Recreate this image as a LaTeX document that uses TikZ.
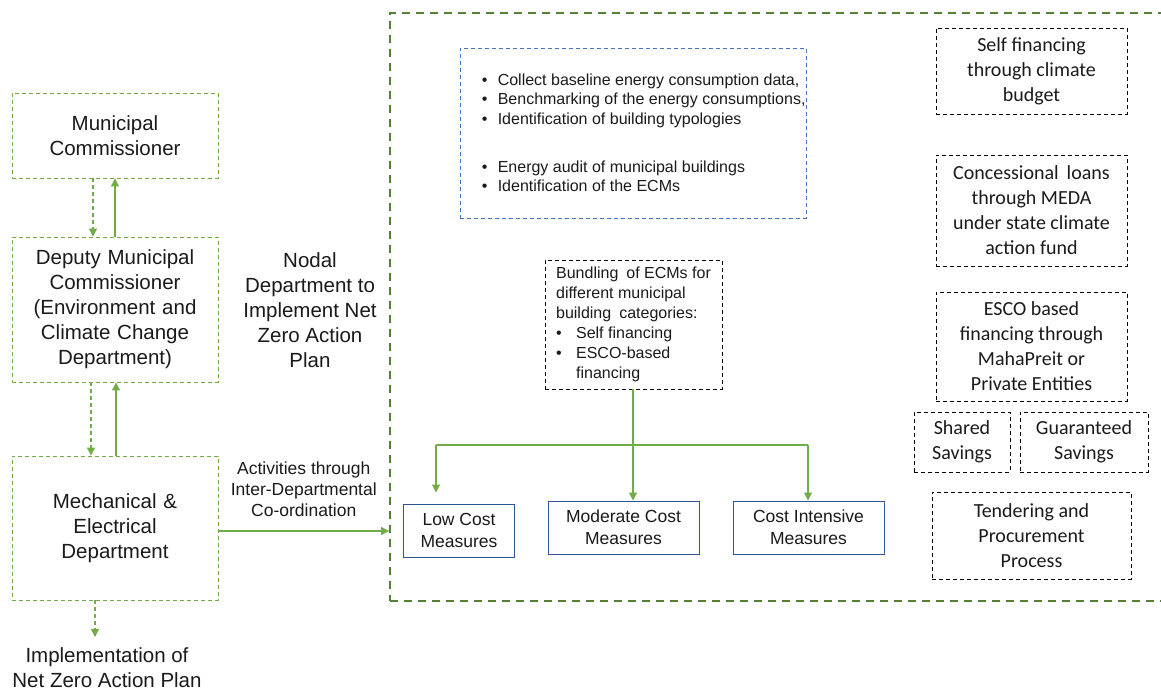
\documentclass[tikz,border=0pt]{standalone}
\usepackage{fontspec}
\setmainfont{Liberation Sans}
\newfontfamily\calib{Carlito}
\usetikzlibrary{arrows.meta}
\definecolor{lgreen}{HTML}{70AD47}
\definecolor{dgreen}{HTML}{548235}
\definecolor{dblue}{HTML}{4472C4}
\definecolor{sblue}{HTML}{2F5597}
\definecolor{txt}{HTML}{1A1A1A}
\tikzset{
  x=1pt, y=-1pt,
  every node/.style={text=txt, inner sep=0pt},
  leftbox/.style={draw=lgreen, line width=0.9pt, dash pattern=on 4pt off 3pt,
    minimum width=206pt, align=center, text width=200pt,
    font=\fontsize{20.5}{25}\selectfont},
  finbox/.style={draw=black, line width=0.8pt, dash pattern=on 4pt off 3pt,
    align=center, font=\calib\fontsize{20}{25}\selectfont},
  measbox/.style={draw=sblue, line width=1pt, align=center,
    font=\fontsize{17.5}{22}\selectfont},
  garrow/.style={draw=lgreen, line width=1.1pt, -{Triangle[length=8pt,width=8pt]}},
  gdarrow/.style={garrow, dash pattern=on 4pt off 3pt},
  gline/.style={draw=lgreen, line width=1.1pt},
  plain/.style={align=center},
}
\newcommand{\bul}[1]{\makebox[#1][l]{\textbullet}}
\begin{document}
\begin{tikzpicture}
\useasboundingbox (0,0) rectangle (1161,690);
% outer frame
\node[draw=dgreen, line width=1.8pt, dash pattern=on 8pt off 6pt,
  minimum width=773pt, minimum height=588pt] (outer) at (776.5,307) {};
% left column
\node[leftbox, minimum height=85pt] (mc) at (115,135.5) {Municipal\\Commissioner};
\node[leftbox, minimum height=145pt] (dep) at (115,309.5)
  {Deputy Municipal\\Commissioner\\(Environment and\\Climate Change\\Department)};
\node[leftbox, minimum height=144pt] (mech) at (115,528)
  {Mechanical \&\\Electrical\\Department};
\coordinate (impl-in) at (95,637);
\node[plain, font=\fontsize{20.5}{25}\selectfont] (impl) at (107,668)
  {Implementation of\\Net Zero Action Plan};
\node[plain, font=\fontsize{20.5}{25}\selectfont] (nodal) at (310,310)
  {Nodal\\Department to\\Implement Net\\Zero Action\\Plan};
\draw[gdarrow] ([xshift=-22pt]mc.south) -- ([xshift=-22pt]dep.north);
\draw[garrow] (dep.north) -- (mc.south);
\draw[gdarrow] ([xshift=-24pt]dep.south) -- ([xshift=-24pt]mech.south |- mech.north);
\draw[garrow] ([xshift=1pt]mech.north) -- ([xshift=1pt]dep.south);
\draw[gdarrow] (mech.south -| impl-in) -- (impl-in);
\draw[garrow] ([yshift=-3pt]mech.east) -- ([yshift=-3pt]outer.west |- mech.east)
  node[pos=0.5, above=14pt, plain, font=\fontsize{17.5}{21}\selectfont] (act)
  {Activities through\\Inter-Departmental\\Co-ordination};
% energy data box
\node[draw=dblue, line width=0.8pt, dash pattern=on 4pt off 3pt,
  minimum width=346pt, minimum height=170pt] (ec) at (633,133) {};
\node[anchor=west, align=left, font=\fontsize{16}{19.5}\selectfont] (ectxt)
  at ([xshift=22pt]ec.west)
  {\bul{16pt}Collect baseline energy consumption data,\\
   \bul{16pt}Benchmarking of the energy consumptions,\\
   \bul{16pt}Identification of building typologies\\[28.5pt]
   \bul{16pt}Energy audit of municipal buildings\\
   \bul{16pt}Identification of the ECMs};
% bundling box
\node[draw=black, line width=0.8pt, dash pattern=on 4pt off 3pt,
  minimum width=177pt, minimum height=129pt, align=left,
  font=\fontsize{16}{20}\selectfont] (bund) at (633.5,324.5)
  {Bundling\hspace{0.5em}of ECMs for\\different municipal\\building\hspace{0.5em}categories:\\
   \bul{20pt}Self financing\\\bul{20pt}ESCO-based\\\hspace*{20pt}financing};
% measures
\node[measbox, minimum width=111pt, minimum height=53pt] (low) at (459,530.5)
  {Low Cost\\Measures};
\node[measbox, minimum width=151pt, minimum height=53pt] (mod) at (623.5,527.5)
  {Moderate Cost\\Measures};
\node[measbox, minimum width=151pt, minimum height=53pt] (ci) at (808.5,527.5)
  {Cost Intensive\\Measures};
\coordinate (hm) at (633,445);
\coordinate (hl) at (436,445);
\coordinate (hr) at (808,445);
\draw[gline] (hl) -- (hr);
\draw[garrow] (hm |- bund.south) -- (hm |- mod.north);
\draw[garrow] (hl) -- ([yshift=11pt]hl |- low.north);
\draw[garrow] (hr) -- (hr |- ci.north);
% financing boxes
\node[finbox, minimum width=191pt, minimum height=86pt] (self) at (1031.5,71)
  {Self financing\\through climate\\budget};
\node[finbox, minimum width=191pt, minimum height=111pt] (conc) at (1031.5,210.5)
  {Concessional\hspace{0.4em}loans\\through MEDA\\under state climate\\action fund};
\node[finbox, minimum width=191pt, minimum height=109pt] (esco) at (1031.5,346.5)
  {ESCO based\\financing through\\MahaPreit or\\Private Entities};
\node[finbox, minimum width=96pt, minimum height=60pt] (shared) at (962,442)
  {Shared\\Savings};
\node[finbox, minimum width=128pt, minimum height=60pt] (guar) at (1084,442)
  {Guaranteed\\Savings};
\node[finbox, minimum width=199pt, minimum height=87pt] (tend) at (1031.5,535.5)
  {Tendering and\\Procurement\\Process};
\end{tikzpicture}
\end{document}
